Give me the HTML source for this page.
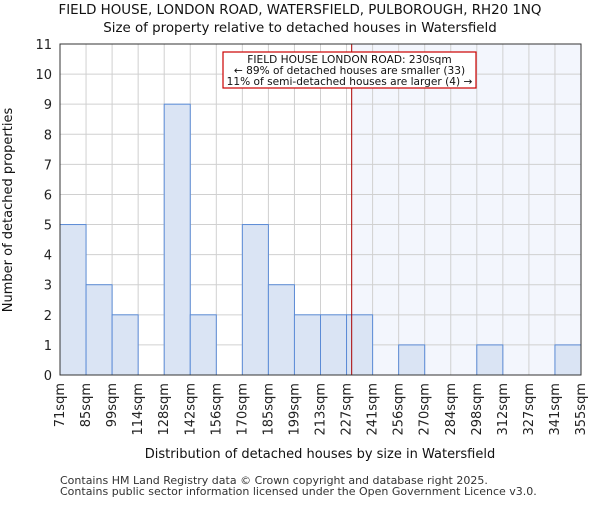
<!DOCTYPE html>
<html><head><meta charset="utf-8"><style>
body{margin:0;background:#fff;}
svg{font-family:"DejaVu Sans","Liberation Sans",sans-serif;}
</style></head><body>
<svg id="c" width="600" height="500" xmlns="http://www.w3.org/2000/svg"></svg>
<script>
const categories=["71sqm","85sqm","99sqm","114sqm","128sqm","142sqm","156sqm","170sqm","185sqm","199sqm","213sqm","227sqm","241sqm","256sqm","270sqm","284sqm","298sqm","312sqm","327sqm","341sqm","355sqm"];
const counts=[5,3,2,0,9,2,0,5,3,2,2,2,0,1,0,0,1,0,0,1];
const yTicks=[0,1,2,3,4,5,6,7,8,9,10,11];
const binStart=71, binWidth=14.2, markerValue=230;
const L=60,R=581,T=44,B=375,yMax=11;
const svg=document.getElementById('c');
const NS='http://www.w3.org/2000/svg';
const bw=(R-L)/counts.length;
const x=i=>L+i*bw;
const y=v=>B-(B-T)*v/yMax;
const xv=v=>L+(v-binStart)/binWidth*bw;
function mk(t,a,txt){const e=document.createElementNS(NS,t);for(const k in a)e.setAttribute(k,a[k]);if(txt!==undefined)e.textContent=txt;svg.appendChild(e);return e;}
const mx=xv(markerValue);
let e=mk('rect',{x:mx,y:T,width:R-mx,height:B-T,fill:'#f3f6fd'});


yTicks.forEach(v=>{let g=mk('line',{x1:L,x2:R,y1:y(v),y2:y(v),stroke:'#d0d0d0','stroke-width':1});


let t=mk('text',{x:L-8,y:y(v)+5,'text-anchor':'end','font-size':13,fill:'#222'},v);

});
categories.forEach((c,i)=>{let g=mk('line',{x1:x(i),x2:x(i),y1:T,y2:B,stroke:'#d0d0d0','stroke-width':1});


const tx=x(i)+4,ty=B+8;
let t=mk('text',{x:tx,y:ty,'text-anchor':'end','font-size':13,fill:'#222',transform:`rotate(-90 ${tx} ${ty})`},c);

});
counts.forEach((v,i)=>{if(v<=0)return;let b=mk('rect',{x:x(i),y:y(v),width:bw,height:B-y(v),fill:'#dae4f4',stroke:'#5b8bd6','stroke-width':1});

});
e=mk('line',{x1:mx,x2:mx,y1:T,y2:B,stroke:'#a00','stroke-width':1});


e=mk('rect',{x:L,y:T,width:R-L,height:B-T,fill:'none',stroke:'#333','stroke-width':1});


e=mk('rect',{x:223,y:52,width:253,height:36,fill:'#fff',stroke:'#c00','stroke-width':1.2});


[["FIELD HOUSE LONDON ROAD: 230sqm",63],["← 89% of detached houses are smaller (33)",74],["11% of semi-detached houses are larger (4) →",85]].forEach(a=>{let t=mk('text',{x:349.5,y:a[1],'text-anchor':'middle','font-size':10.6,fill:'#111'},a[0]);

});
e=mk('text',{x:300,y:14,'text-anchor':'middle','font-size':13.4,fill:'#111'},'FIELD HOUSE, LONDON ROAD, WATERSFIELD, PULBOROUGH, RH20 1NQ');


e=mk('text',{x:300,y:32,'text-anchor':'middle','font-size':13.4,fill:'#111'},'Size of property relative to detached houses in Watersfield');


e=mk('text',{x:320,y:458,'text-anchor':'middle','font-size':13,fill:'#111'},'Distribution of detached houses by size in Watersfield');


e=mk('text',{x:12,y:210,'text-anchor':'middle','font-size':13,fill:'#111',transform:'rotate(-90 12 210)'},'Number of detached properties');


e=mk('text',{x:60,y:484,'font-size':11,fill:'#333'},'Contains HM Land Registry data © Crown copyright and database right 2025.');


e=mk('text',{x:60,y:495,'font-size':11,fill:'#333'},'Contains public sector information licensed under the Open Government Licence v3.0.');


</script>
</body></html>
